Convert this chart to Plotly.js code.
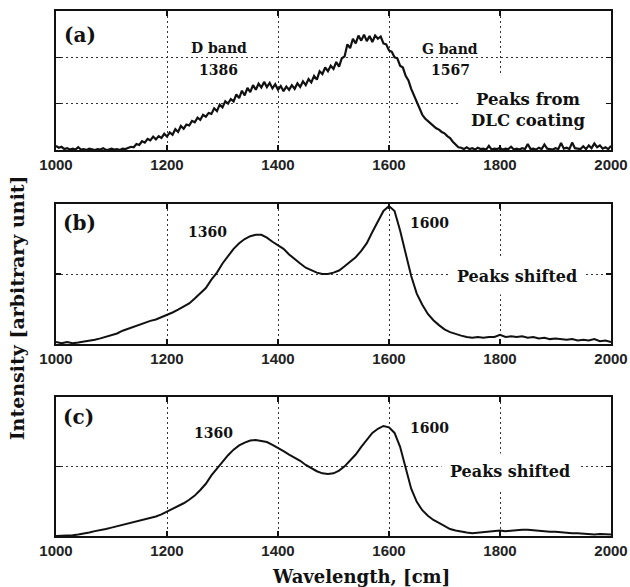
<!DOCTYPE html>
<html>
<head>
<meta charset="utf-8">
<script src="https://cdn.plot.ly/plotly-3.0.1.min.js"></script>
<style>
  html, body { margin: 0; padding: 0; background: #fff; }
  #chart { width: 630px; height: 587px; }
</style>
</head>
<body>
<div id="chart"></div>
<script>
// Raman spectra, wavenumber axis in cm^-1
const xStart = 1000;
const stepA = 5;    // sampling of panel (a)
const stepBC = 10;  // sampling of panels (b) and (c)

// (a) peaks from the DLC coating
const intensityA = [
  0.09,0.05,0.07,0.02,0.04,0.01,0.03,0.01,0.06,0.01,
  0.02,0.00,0.03,0.01,0.00,0.02,0.01,0.04,0.00,0.01,
  0.03,0.01,0.02,0.00,0.03,0.02,0.04,0.07,0.06,0.13,
  0.11,0.19,0.16,0.24,0.21,0.29,0.23,0.30,0.26,0.35,
  0.29,0.38,0.33,0.45,0.39,0.52,0.46,0.55,0.53,0.63,
  0.60,0.70,0.65,0.76,0.72,0.80,0.78,0.90,0.84,0.98,
  0.92,1.05,1.00,1.10,1.05,1.20,1.12,1.28,1.18,1.34,
  1.25,1.40,1.30,1.43,1.35,1.47,1.36,1.45,1.33,1.42,
  1.30,1.38,1.27,1.37,1.30,1.40,1.32,1.44,1.36,1.48,
  1.40,1.53,1.46,1.60,1.52,1.70,1.64,1.78,1.70,1.82,
  1.75,1.90,1.80,1.98,2.02,2.28,2.20,2.40,2.30,2.47,
  2.36,2.49,2.35,2.46,2.33,2.47,2.40,2.45,2.30,2.28,
  2.15,2.12,2.00,1.98,1.82,1.78,1.60,1.50,1.32,1.18,
  1.02,0.88,0.76,0.68,0.62,0.56,0.52,0.47,0.44,0.39,
  0.36,0.30,0.26,0.18,0.13,0.06,0.05,0.02,0.06,0.02,
  0.04,0.01,0.05,0.02,0.03,0.01,0.09,0.01,0.03,0.02,
  0.05,0.01,0.03,0.02,0.07,0.01,0.03,0.01,0.04,0.02,
  0.13,0.02,0.03,0.01,0.05,0.02,0.12,0.03,0.02,0.01,
  0.04,0.02,0.15,0.03,0.05,0.02,0.16,0.04,0.03,0.02,
  0.08,0.02,0.10,0.04,0.14,0.06,0.10,0.03,0.06,0.02,
  0.09
];

// (b) shifted peaks
const intensityB = [
  0.03,0.01,0.03,0.01,0.02,0.03,0.04,0.06,0.08,0.10,
  0.13,0.15,0.19,0.22,0.25,0.27,0.30,0.33,0.35,0.38,
  0.41,0.45,0.49,0.53,0.58,0.65,0.73,0.80,0.92,1.02,
  1.15,1.26,1.36,1.44,1.50,1.54,1.56,1.56,1.52,1.46,
  1.41,1.36,1.28,1.21,1.15,1.09,1.05,1.02,1.00,1.00,
  1.02,1.05,1.11,1.17,1.24,1.33,1.44,1.60,1.76,1.90,
  1.97,1.90,1.62,1.30,0.97,0.72,0.56,0.43,0.34,0.27,
  0.21,0.17,0.14,0.12,0.10,0.09,0.10,0.09,0.10,0.10,
  0.13,0.10,0.11,0.10,0.11,0.09,0.10,0.08,0.09,0.07,
  0.08,0.07,0.06,0.07,0.05,0.06,0.05,0.07,0.04,0.05,
  0.03
];

// (c) shifted peaks
const intensityC = [
  0.00,0.00,0.01,0.01,0.02,0.03,0.05,0.07,0.08,0.10,
  0.12,0.14,0.16,0.18,0.19,0.21,0.23,0.25,0.28,0.31,
  0.35,0.38,0.42,0.47,0.52,0.58,0.66,0.75,0.87,0.97,
  1.07,1.16,1.24,1.30,1.34,1.37,1.38,1.37,1.35,1.31,
  1.27,1.22,1.17,1.13,1.08,1.02,0.97,0.93,0.90,0.89,
  0.90,0.94,1.00,1.08,1.17,1.28,1.38,1.48,1.54,1.58,
  1.56,1.48,1.28,0.96,0.68,0.49,0.37,0.29,0.23,0.19,
  0.14,0.10,0.08,0.06,0.05,0.04,0.05,0.05,0.06,0.07,
  0.08,0.07,0.08,0.08,0.09,0.09,0.08,0.08,0.07,0.06,
  0.06,0.05,0.05,0.04,0.04,0.03,0.03,0.02,0.03,0.02,
  0.02
];

const tickValues = [1000, 1200, 1400, 1600, 1800, 2000];
const tickLabels = ['1000', '1200', '1400', '1600', '1800', '2000'];

function grid(values, step) {
  return values.map((_, i) => xStart + i * step);
}

const traces = [
  { x: grid(intensityA, stepA), y: intensityA, xaxis: 'x', yaxis: 'y', mode: 'lines',
    line: { color: '#111', width: 2.2 }, hoverinfo: 'skip' },
  { x: grid(intensityB, stepBC), y: intensityB, xaxis: 'x2', yaxis: 'y2', mode: 'lines',
    line: { color: '#111', width: 2 }, hoverinfo: 'skip' },
  { x: grid(intensityC, stepBC), y: intensityC, xaxis: 'x3', yaxis: 'y3', mode: 'lines',
    line: { color: '#111', width: 2 }, hoverinfo: 'skip' }
];

const serif = 'DejaVu Serif';
const dotted = '2px,3px';

function xAxis(anchor) {
  return {
    anchor: anchor, domain: [0, 1], range: [1000, 2000],
    tickvals: tickValues, ticktext: tickLabels,
    showgrid: true, gridcolor: '#333', gridwidth: 1, griddash: dotted,
    zeroline: false,
    showline: true, linecolor: '#111', linewidth: 1.8, mirror: 'ticks',
    ticks: 'inside', ticklen: 5, tickwidth: 1.2, tickcolor: '#111',
    tickfont: { family: 'Liberation Sans', size: 15, color: '#222', weight: 'bold' },
    fixedrange: true
  };
}
function yAxis(anchor, domain, top) {
  return {
    anchor: anchor, domain: domain, range: [0, top], dtick: 1,
    showticklabels: false,
    showgrid: true, gridcolor: '#333', gridwidth: 1, griddash: dotted,
    zeroline: false,
    showline: true, linecolor: '#111', linewidth: 1.8, mirror: 'ticks',
    ticks: 'inside', ticklen: 5, tickwidth: 1.2, tickcolor: '#111',
    fixedrange: true
  };
}

function label(text, x, y, xr, yr, size, extra) {
  return Object.assign({
    text: text, x: x, y: y, xref: xr, yref: yr, showarrow: false,
    xanchor: 'center', yanchor: 'middle',
    font: { family: serif, size: size, color: '#111', weight: 'bold' }
  }, extra || {});
}

const annotations = [
  // (a)
  label('(a)', 1043, 2.48, 'x', 'y', 20),
  label('D band', 1293, 2.2, 'x', 'y', 14),
  label('1386', 1293, 1.73, 'x', 'y', 14),
  label('G band', 1710, 2.18, 'x', 'y', 14),
  label('1567', 1710, 1.72, 'x', 'y', 14),
  label('Peaks from<br>DLC coating', 1850, 0.87, 'x', 'y', 16.5),
  // (b)
  label('(b)', 1043, 1.73, 'x2', 'y2', 20),
  label('1360', 1273, 1.6, 'x2', 'y2', 14),
  label('1600', 1673, 1.73, 'x2', 'y2', 14),
  label('Peaks shifted', 1830, 0.96, 'x2', 'y2', 16, { bgcolor: '#fff', borderpad: 8 }),
  // (c)
  label('(c)', 1040, 1.71, 'x3', 'y3', 20),
  label('1360', 1283, 1.48, 'x3', 'y3', 14),
  label('1600', 1673, 1.55, 'x3', 'y3', 14),
  label('Peaks shifted', 1818, 0.93, 'x3', 'y3', 16, { bgcolor: '#fff', borderpad: 8 }),
  // shared axis titles
  label('Intensity [arbitrary unit]', -0.07, 0.434, 'paper', 'paper', 19, { textangle: -90 }),
  label('Wavelength, [cm]', 0.549, -0.078, 'paper', 'paper', 18)
];

// clear panel behind the DLC note, under the spectrum but over the grid
const shapes = [
  { type: 'rect', xref: 'x', yref: 'y', x0: 1725, x1: 2000, y0: 0, y1: 1.62,
    fillcolor: '#fff', line: { width: 0 }, layer: 'between' }
];

const layout = {
  width: 630, height: 587,
  margin: { l: 56, r: 19, t: 11, b: 51 },
  paper_bgcolor: '#fff', plot_bgcolor: '#fff',
  showlegend: false,
  xaxis: xAxis('y'),
  xaxis2: xAxis('y2'),
  xaxis3: xAxis('y3'),
  yaxis: yAxis('x', [0.7352, 1.0], 3),
  yaxis2: yAxis('x2', [0.3657, 0.6324], 2),
  yaxis3: yAxis('x3', [0, 0.2653], 2),
  annotations: annotations,
  shapes: shapes
};

Plotly.newPlot('chart', traces, layout, { displayModeBar: false, staticPlot: true });
</script>
</body>
</html>
